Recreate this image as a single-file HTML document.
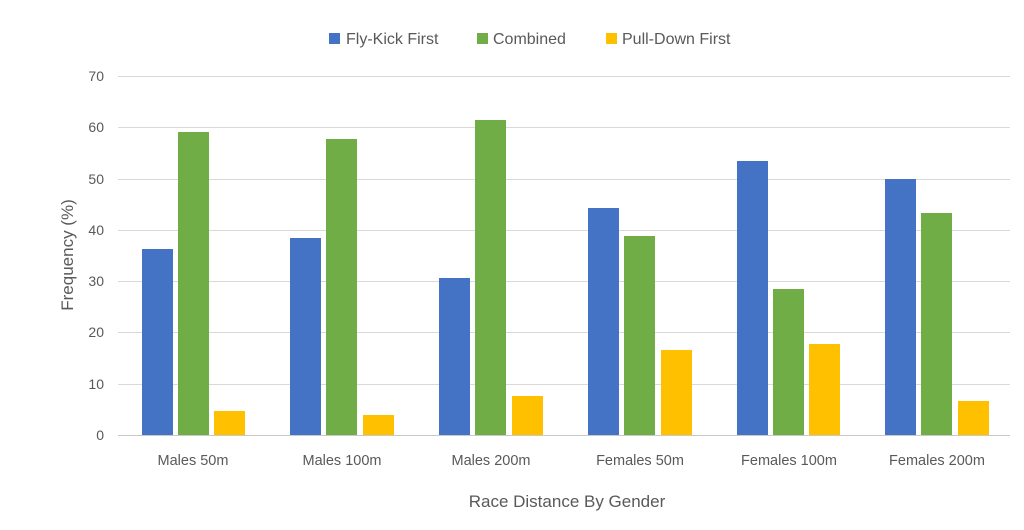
<!DOCTYPE html>
<html><head><meta charset="utf-8"><style>
html,body{margin:0;padding:0;background:#fff;}
svg text{font-family:"Liberation Sans",sans-serif;fill:#595959;}
</style></head><body>
<svg width="1024" height="525" xmlns="http://www.w3.org/2000/svg">
<g stroke="#d9d9d9" stroke-width="1">
<line x1="118" x2="1010" y1="76.5" y2="76.5"/>
<line x1="118" x2="1010" y1="127.5" y2="127.5"/>
<line x1="118" x2="1010" y1="179.5" y2="179.5"/>
<line x1="118" x2="1010" y1="230.5" y2="230.5"/>
<line x1="118" x2="1010" y1="281.5" y2="281.5"/>
<line x1="118" x2="1010" y1="332.5" y2="332.5"/>
<line x1="118" x2="1010" y1="384.5" y2="384.5"/>
<line x1="118" x2="1010" y1="435.5" y2="435.5" stroke="#c8c8c8"/>
</g>
<g font-size="14" text-anchor="end">
<text x="104" y="81">70</text><text x="104" y="132">60</text><text x="104" y="184">50</text>
<text x="104" y="235">40</text><text x="104" y="286">30</text><text x="104" y="337">20</text>
<text x="104" y="389">10</text><text x="104" y="440">0</text>
</g>
<g>
<rect x="142" y="249" width="31" height="186" fill="#4472C4"/>
<rect x="178" y="132" width="31" height="303" fill="#70AD47"/>
<rect x="214" y="411" width="31" height="24" fill="#FFC000"/>
<rect x="290" y="238" width="31" height="197" fill="#4472C4"/>
<rect x="326" y="139" width="31" height="296" fill="#70AD47"/>
<rect x="363" y="415" width="31" height="20" fill="#FFC000"/>
<rect x="439" y="278" width="31" height="157" fill="#4472C4"/>
<rect x="475" y="120" width="31" height="315" fill="#70AD47"/>
<rect x="512" y="396" width="31" height="39" fill="#FFC000"/>
<rect x="588" y="208" width="31" height="227" fill="#4472C4"/>
<rect x="624" y="236" width="31" height="199" fill="#70AD47"/>
<rect x="661" y="350" width="31" height="85" fill="#FFC000"/>
<rect x="737" y="161" width="31" height="274" fill="#4472C4"/>
<rect x="773" y="289" width="31" height="146" fill="#70AD47"/>
<rect x="809" y="344" width="31" height="91" fill="#FFC000"/>
<rect x="885" y="179" width="31" height="256" fill="#4472C4"/>
<rect x="921" y="213" width="31" height="222" fill="#70AD47"/>
<rect x="958" y="401" width="31" height="34" fill="#FFC000"/>
</g>
<g font-size="14.5" text-anchor="middle">
<text x="193" y="465">Males 50m</text>
<text x="342" y="465">Males 100m</text>
<text x="491" y="465">Males 200m</text>
<text x="640" y="465">Females 50m</text>
<text x="789" y="465">Females 100m</text>
<text x="937" y="465">Females 200m</text>
</g>
<text x="567" y="507" font-size="17" text-anchor="middle">Race Distance By Gender</text>
<text transform="translate(73,255) rotate(-90)" font-size="17" text-anchor="middle">Frequency (%)</text>
<g font-size="16">
<rect x="329" y="33" width="11" height="11" fill="#4472C4"/><text x="346" y="44">Fly-Kick First</text>
<rect x="477" y="33" width="11" height="11" fill="#70AD47"/><text x="493" y="44">Combined</text>
<rect x="606" y="33" width="11" height="11" fill="#FFC000"/><text x="622" y="44">Pull-Down First</text>
</g>
</svg>
</body></html>
